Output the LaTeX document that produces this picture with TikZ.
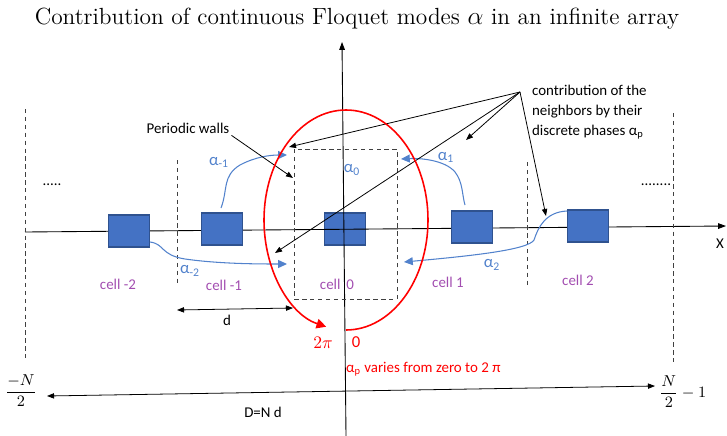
\documentclass[tikz,border=0pt]{standalone}
\usepackage{fontspec}
\setsansfont{Carlito}
\usetikzlibrary{arrows.meta,positioning}
\definecolor{cellblue}{HTML}{4472C4}
\definecolor{celledge}{HTML}{2F528F}
\definecolor{phaseblue}{HTML}{5282CC}
\definecolor{cellpurple}{HTML}{A24DB0}
\definecolor{wallgray}{HTML}{404040}
\tikzset{cell/.style={draw=celledge,fill=cellblue,line width=0.6pt,minimum width=0.82cm,minimum height=0.64cm,inner sep=0pt},
  wall/.style={wallgray,line width=0.5pt,dash pattern=on 2.5pt off 2pt},
  axis/.style={line width=0.5pt,-{Triangle[length=4.5pt,width=3.2pt]}},
  arr/.style={line width=0.45pt,-{Triangle[length=4pt,width=3pt]}},
  phase/.style={phaseblue,line width=0.6pt,-{Triangle[length=5pt,width=4.5pt]}},
  lbl/.style={font=\sffamily\fontsize{8.5}{11.3}\selectfont,inner sep=1pt},
  alf/.style={lbl,phaseblue,font=\sffamily\fontsize{9.5}{11.3}\selectfont},
  cname/.style={lbl,cellpurple}}

\begin{document}
\begin{tikzpicture}[x=0.02cm,y=-0.02cm]
\useasboundingbox (0,0) rectangle (727,436);
\node[anchor=base,font=\fontsize{13.3}{16}\selectfont,inner sep=0pt] (ttl) at (357,25) {Contribution of continuous Floquet modes $\alpha$ in an infinite array};
% cell 0 under the axes
\node[cell] (c0) at (345,229) {};
\coordinate (ytop) at (342,42); \coordinate (ybot) at (346,436);
\coordinate (xl) at (25,232); \coordinate (xr) at (726,226);
\draw[axis] (ybot)--(ytop); \draw[axis] (xl)--(xr);
\node[lbl] (xlab) at (720,244) {X};
\node[cell] (cm2) at (129,231) {};
\node[cell] (cm1) at (222,229) {};
\node[cell] (c1) at (472,227) {};
\node[cell] (c2) at (588,226) {};
% periodic walls
\draw[wall] (25,109)--(25,360); \draw[wall] (177,160)--(177,285);
\draw[wall] (527,162)--(527,287); \draw[wall] (673,113)--(673,363);
\draw[wall] (294,149) rectangle (397,299);
\node[cname] (lm2) at (118,284) {cell -2};
\node[cname] (lm1) at (224,285) {cell -1};
\node[cname] (l0) at (337,284) {cell\, 0};
\node[cname] (l1) at (448,282) {cell 1};
\node[cname] (l2) at (578,280) {cell 2};
\node[lbl] (dotl) at (52,185) {.....};
\node[lbl] (dotr) at (656,185) {........};
% phases
\coordinate (pm1) at (221,208); \coordinate (qm1) at (287,155);
\coordinate (pm2) at (150,242); \coordinate (qm2) at (287,264);
\coordinate (p1) at (465,205); \coordinate (q1) at (401,159);
\coordinate (p2) at (567,211); \coordinate (q2) at (404,262);
\draw[phase] (pm1) .. controls (228,190) and (222,176) .. (240,165) .. controls (255,157) and (270,155) .. (qm1);
\draw[phase] (pm2) .. controls (165,244) and (160,255) .. (185,259) .. controls (220,264) and (260,264) .. (qm2);
\draw[phase] (p1) .. controls (462,195) and (463,182) .. (455,172) .. controls (445,160) and (420,158) .. (q1);
\draw[phase] (p2) .. controls (545,212) and (538,228) .. (534,240) .. controls (528,250) and (470,256) .. (q2);
\node[alf] (am1) at (219,162) {α\textsubscript{-1}};
\node[alf] (am2) at (190,271) {α\textsubscript{-2}};
\node[alf] (a0) at (352,170) {α\textsubscript{0}};
\node[alf] (a1) at (446,157) {α\textsubscript{1}};
\node[alf] (a2) at (492,265) {α\textsubscript{2}};
% neighbours
\node[lbl,align=left,anchor=west] (nbr) at (530,112) {contribution of the\\neighbors by their\\discrete phases α\textsubscript{p}};
\coordinate (src) at (520,92);
\coordinate (t1) at (289,147); \coordinate (t2) at (466,140);
\coordinate (t3) at (275,253); \coordinate (t4) at (546,216);
\foreach \t in {t1,t2,t3,t4} \draw[arr] (src)--(\t);
\node[lbl] (pw) at (188,128) {Periodic walls};
\coordinate (pwend) at (293,178);
\draw[arr] (pw.south east)--(pwend);
% phase circle
\coordinate (zero) at (346,330);
\draw[red,line width=0.9pt,-{Triangle[length=5.5pt,width=5.5pt]}] (zero) arc[start angle=90,end angle=-256,x radius=82,y radius=110];
\node[red,font=\fontsize{10}{12}\selectfont] (twopi) at (323,343) {$2\pi$};
\node[lbl,red,font=\sffamily\fontsize{9.5}{11}\selectfont] (nul) at (356,342) {0};
\node[lbl,red,anchor=west] (vary) at (344,369) {α\textsubscript{p} varies from zero to 2 π};
% spacings
\coordinate (dl) at (177,310); \coordinate (dr) at (293,308);
\draw[line width=0.45pt,{Triangle[length=4pt,width=3pt]}-{Triangle[length=4pt,width=3pt]}] (dl)--(dr);
\node[lbl] (dlab) at (227,320) {d};
\coordinate (Dl) at (47,396); \coordinate (Dr) at (655,386);
\draw[line width=0.45pt,{Triangle[length=4pt,width=3pt]}-{Triangle[length=4pt,width=3pt]}] (Dl)--(Dr);
\node[lbl] (Dlab) at (263,412) {D=N d};
\node[font=\fontsize{9}{11}\selectfont,inner sep=0pt] (nlo) at (21,391) {$\displaystyle\frac{-N}{2}$};
\node[font=\fontsize{9}{11}\selectfont,anchor=west,inner sep=0pt] (nhi) at (659,392) {$\displaystyle\frac{N}{2}-1$};
\end{tikzpicture}
\end{document}
